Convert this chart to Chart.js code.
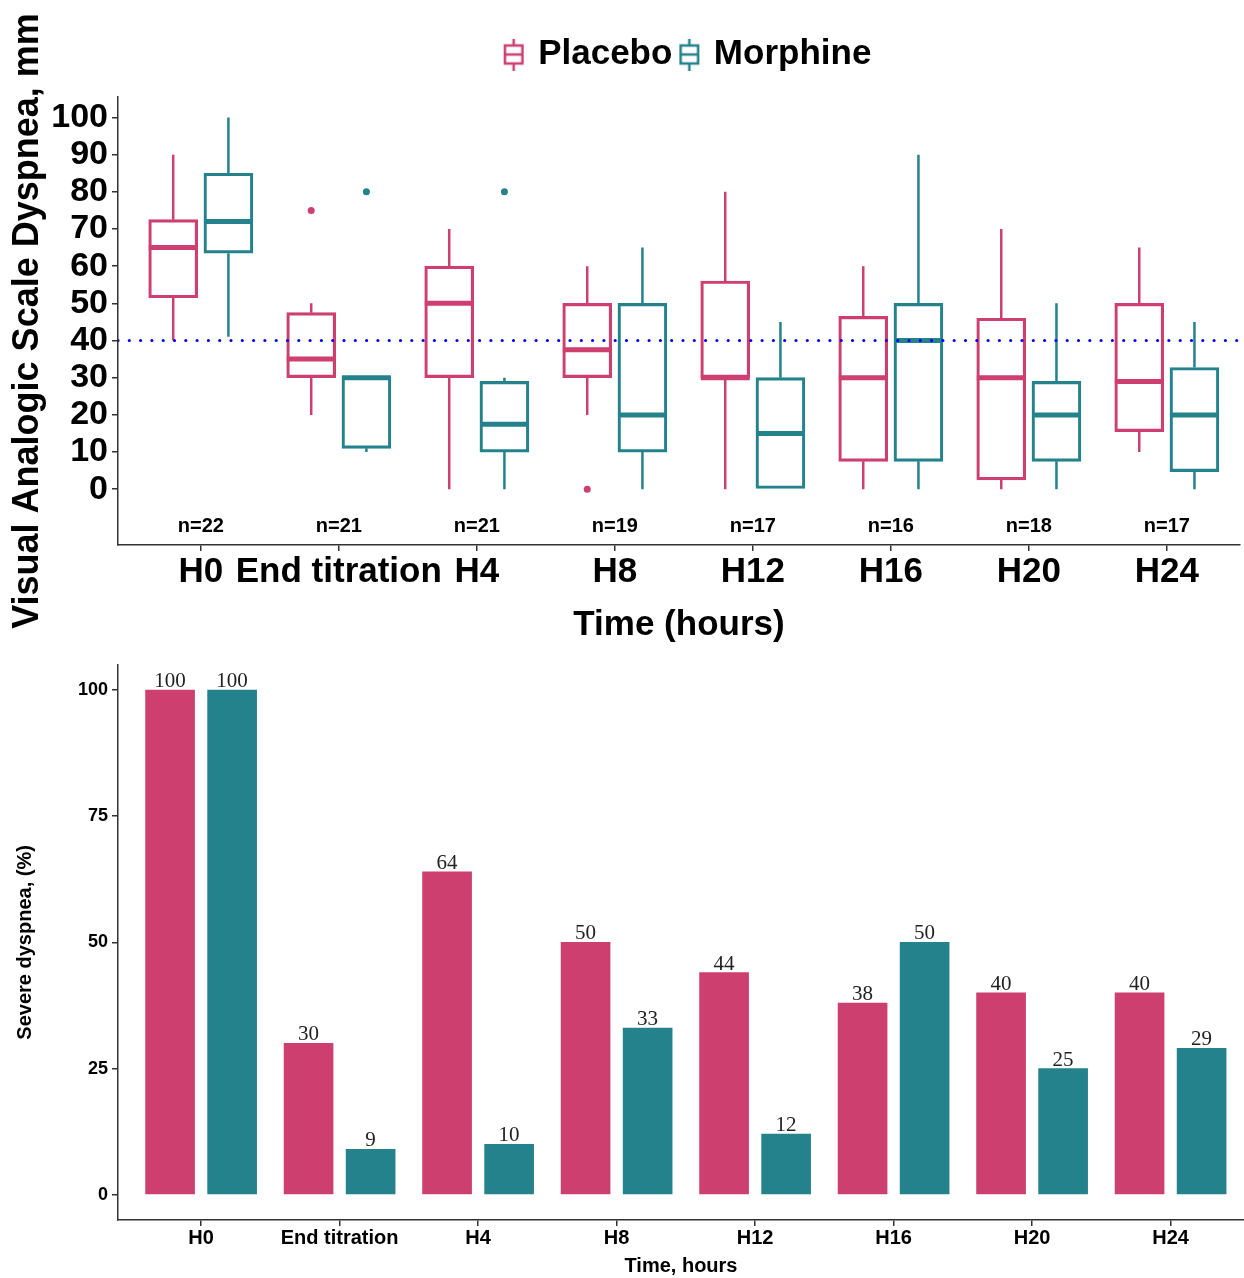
<!DOCTYPE html>
<html>
<head>
<meta charset="utf-8">
<script src="https://cdn.jsdelivr.net/npm/chart.js@4.4.1/dist/chart.umd.min.js"></script>
<style>
  body { margin: 0; background: #fff; }
  #wrap { position: relative; width: 1244px; height: 1278px; }
  #boxCanvas { position: absolute; left: 0; top: 0; }
  #barCanvas { position: absolute; left: 0; top: 650px; }
</style>
</head>
<body>
<div id="wrap">
  <canvas id="boxCanvas" width="1244" height="650"></canvas>
  <canvas id="barCanvas" width="1244" height="628"></canvas>
</div>
<script>
// Data
const timepoints = ['H0', 'End titration', 'H4', 'H8', 'H12', 'H16', 'H20', 'H24'];
const sampleSizes = [22, 21, 21, 19, 17, 16, 18, 17];

// boxplot summaries per timepoint: [min, q1, median, q3, max]
const placeboVAS = [
    [40, 51.5, 65, 72.5, 90],
    [20, 30, 35, 47.5, 50],
    [0, 30, 50, 60, 70],
    [20, 30, 37.5, 50, 60],
    [0, 30, 30, 56, 80],
    [0, 7.5, 30, 46.5, 60],
    [0, 2.5, 30, 46, 70],
    [10, 15.5, 29, 50, 65],
];
const morphineVAS = [
    [41, 63.5, 72, 85, 100],
    [10, 11, 30, 30.3, 30.3],
    [0, 10, 17.5, 29, 30],
    [0, 10, 20, 50, 65],
    [0, 0, 15, 30, 45],
    [0, 7.5, 40, 50, 90],
    [0, 7.5, 20, 29, 50],
    [0, 4.75, 20, 32.75, 45],
];
const placeboOutliers = [[], [75], [], [0], [], [], [], []];
const morphineOutliers = [[], [80], [80], [], [], [], [], []];
const severeThreshold = 40;

// severe dyspnea, %
const severePlacebo = [100, 30, 64, 50, 44, 38, 40, 40];
const severeMorphine = [100, 9, 10, 33, 12, 50, 25, 29];

const PINK = '#cd3f6f';
const TEAL = '#24828c';
const X_MIN = -0.6;
const X_MAX = 7.53;
const BOX_OFFSET = 0.2;
const MED_HALF = 0.177;
const BAR_OFFSET = 0.224;
const N_LABEL_Y = -10;

Chart.defaults.font.family = "'Liberation Sans', Arial, sans-serif";
Chart.defaults.color = '#000';

// Helpers to turn the summaries into chart points
function boxData(stats, off) {
    return stats.map((s, i) => ({ x: i + off, y: [s[1], s[3]] }));
}
function whiskerData(stats, off) {
    const pts = [];
    stats.forEach((s, i) => {
        pts.push({ x: i + off, y: s[3] }, { x: i + off, y: s[4] }, { x: i + off, y: null });
        pts.push({ x: i + off, y: s[1] }, { x: i + off, y: s[0] }, { x: i + off, y: null });
    });
    return pts;
}
function medianData(stats, off) {
    const pts = [];
    stats.forEach((s, i) => {
        pts.push({ x: i + off - MED_HALF, y: s[2] }, { x: i + off + MED_HALF, y: s[2] }, { x: i + off, y: null });
    });
    return pts;
}
function outlierData(list, off) {
    const pts = [];
    list.forEach((vals, i) => vals.forEach(v => pts.push({ x: i + off, y: v })));
    return pts;
}
function legendIcon(color) {
    const c = document.createElement('canvas');
    c.width = 22; c.height = 32;
    const g = c.getContext('2d');
    g.strokeStyle = color;
    g.lineWidth = 2.5;
    g.beginPath();
    g.moveTo(11, 0); g.lineTo(11, 7);
    g.moveTo(11, 25); g.lineTo(11, 32);
    g.stroke();
    g.strokeRect(2.25, 7, 17.5, 18);
    g.beginPath();
    g.moveTo(2, 16); g.lineTo(20, 16);
    g.stroke();
    return c;
}

const fixedTicks = (values) => (scale) => { scale.ticks = values.map(v => ({ value: v })); };
const lineStyle = { type: 'line', pointRadius: 0, spanGaps: false, fill: false };

// Legend: extra room underneath and centred over the plot like the original
const legendTweak = {
    id: 'legendTweak',
    beforeLayout(chart) {
        const l = chart.legend;
        if (l && !l._tweaked) {
            const fit = l.fit;
            l.fit = function () { fit.call(this); this.height += 15; };
            l._tweaked = true;
        }
    },
    afterLayout(chart) {
        chart.legend.left += 67;
        chart.legend.right += 67;
    }
};

const sampleSizeLabels = {
    id: 'sampleSizeLabels',
    afterDatasetsDraw(chart) {
        const { ctx, scales: { x, y } } = chart;
        ctx.save();
        ctx.font = "bold 20px 'Liberation Sans', Arial, sans-serif";
        ctx.fillStyle = '#000';
        ctx.textAlign = 'center';
        ctx.textBaseline = 'middle';
        sampleSizes.forEach((n, i) => ctx.fillText('n=' + n, x.getPixelForValue(i), y.getPixelForValue(N_LABEL_Y)));
        ctx.restore();
    }
};

const barValueLabels = {
    id: 'barValueLabels',
    afterDatasetsDraw(chart) {
        const ctx = chart.ctx;
        ctx.save();
        ctx.font = "21px 'Liberation Serif', 'Times New Roman', serif";
        ctx.fillStyle = '#222';
        ctx.textAlign = 'center';
        ctx.textBaseline = 'alphabetic';
        chart.data.datasets.forEach((ds, di) => {
            chart.getDatasetMeta(di).data.forEach((bar, i) => {
                ctx.fillText(String(ds.data[i].y), bar.x, bar.y - 3);
            });
        });
        ctx.restore();
    }
};

const axisLine = { display: true, color: '#333', width: 1.5 };
const tickMarks = { offset: false, drawOnChartArea: false, drawTicks: true, tickLength: 6, color: '#333', lineWidth: 1.5 };

// Top: VAS boxplots
new Chart(document.getElementById('boxCanvas'), {
    type: 'bar',
    data: {
        datasets: [
            { label: 'Placebo', data: boxData(placeboVAS, -BOX_OFFSET), backgroundColor: 'rgba(0,0,0,0)',
              borderColor: PINK, borderWidth: 2.5, borderSkipped: false, barThickness: 49, grouped: false, order: 2 },
            { label: 'Morphine', data: boxData(morphineVAS, BOX_OFFSET), backgroundColor: 'rgba(0,0,0,0)',
              borderColor: TEAL, borderWidth: 2.5, borderSkipped: false, barThickness: 49, grouped: false, order: 2 },
            { ...lineStyle, label: 'pw', data: whiskerData(placeboVAS, -BOX_OFFSET), borderColor: PINK, borderWidth: 2.5, order: 1 },
            { ...lineStyle, label: 'mw', data: whiskerData(morphineVAS, BOX_OFFSET), borderColor: TEAL, borderWidth: 2.5, order: 1 },
            { ...lineStyle, label: 'pm', data: medianData(placeboVAS, -BOX_OFFSET), borderColor: PINK, borderWidth: 5, order: 1 },
            { ...lineStyle, label: 'mm', data: medianData(morphineVAS, BOX_OFFSET), borderColor: TEAL, borderWidth: 5, order: 1 },
            { type: 'line', label: 'po', data: outlierData(placeboOutliers, -BOX_OFFSET), showLine: false,
              pointRadius: 3.5, pointBackgroundColor: PINK, pointBorderWidth: 0, order: 1 },
            { type: 'line', label: 'mo', data: outlierData(morphineOutliers, BOX_OFFSET), showLine: false,
              pointRadius: 3.5, pointBackgroundColor: TEAL, pointBorderWidth: 0, order: 1 },
            { ...lineStyle, label: 'threshold', data: [{ x: X_MIN, y: severeThreshold }, { x: X_MAX, y: severeThreshold }],
              borderColor: '#0000ff', borderWidth: 3.2, borderDash: [0, 11.3], borderCapStyle: 'round', order: 0 },
        ]
    },
    options: {
        responsive: false,
        animation: false,
        layout: { padding: { top: 27, right: 0, left: 0, bottom: 0 } },
        plugins: {
            tooltip: { enabled: false },
            legend: {
                position: 'top',
                labels: {
                    usePointStyle: true,
                    boxWidth: 14,
                    padding: 10,
                    color: '#000',
                    font: { size: 35, weight: 'bold' },
                    generateLabels: () => [
                        { text: 'Placebo', pointStyle: legendIcon(PINK), fillStyle: PINK, strokeStyle: PINK, lineWidth: 0, hidden: false, datasetIndex: 0, fontColor: '#000' },
                        { text: 'Morphine', pointStyle: legendIcon(TEAL), fillStyle: TEAL, strokeStyle: TEAL, lineWidth: 0, hidden: false, datasetIndex: 1, fontColor: '#000' },
                    ]
                }
            }
        },
        scales: {
            x: {
                type: 'linear',
                offset: false,
                min: X_MIN,
                max: X_MAX,
                afterBuildTicks: fixedTicks(timepoints.map((_, i) => i)),
                afterFit: (s) => { s.height = 105; },
                ticks: { autoSkip: false, maxRotation: 0, minRotation: 0, padding: 0, color: '#000',
                         font: { size: 35, weight: 'bold' }, callback: (v) => timepoints[v] },
                grid: tickMarks,
                border: axisLine,
                title: { display: true, text: 'Time (hours)', color: '#000', font: { size: 35, weight: 'bold' }, padding: { top: 0, bottom: 4 } }
            },
            y: {
                min: -15,
                max: 105.5,
                afterBuildTicks: fixedTicks([0, 10, 20, 30, 40, 50, 60, 70, 80, 90, 100]),
                afterFit: (s) => { s.width = 118; },
                ticks: { padding: 4, color: '#000', font: { size: 34, weight: 'bold' } },
                grid: tickMarks,
                border: axisLine,
                title: { display: true, text: 'Visual Analogic Scale Dyspnea, mm', color: '#000', font: { size: 36, weight: 'bold' }, padding: { top: 6, bottom: 0 } }
            }
        }
    },
    plugins: [legendTweak, sampleSizeLabels]
});

// Bottom: severe dyspnea bars
new Chart(document.getElementById('barCanvas'), {
    type: 'bar',
    data: {
        datasets: [
            { label: 'Placebo', data: severePlacebo.map((v, i) => ({ x: i - BAR_OFFSET, y: v })),
              backgroundColor: PINK, barThickness: 49, grouped: false },
            { label: 'Morphine', data: severeMorphine.map((v, i) => ({ x: i + BAR_OFFSET, y: v })),
              backgroundColor: TEAL, barThickness: 49, grouped: false },
        ]
    },
    options: {
        responsive: false,
        animation: false,
        layout: { padding: { top: 7, right: 0, left: 0, bottom: 0 } },
        plugins: { tooltip: { enabled: false }, legend: { display: false } },
        scales: {
            x: {
                type: 'linear',
                offset: false,
                min: X_MIN,
                max: X_MAX,
                afterBuildTicks: fixedTicks(timepoints.map((_, i) => i)),
                afterFit: (s) => { s.height = 58; },
                ticks: { autoSkip: false, maxRotation: 0, minRotation: 0, padding: 0, color: '#000',
                         font: { size: 20, weight: 'bold' }, callback: (v) => timepoints[v] },
                grid: tickMarks,
                border: axisLine,
                title: { display: true, text: 'Time, hours', color: '#000', font: { size: 20, weight: 'bold' }, padding: { top: 0, bottom: 0 } }
            },
            y: {
                min: -5,
                max: 105,
                afterBuildTicks: fixedTicks([0, 25, 50, 75, 100]),
                afterFit: (s) => { s.width = 118; },
                ticks: { padding: 4, color: '#000', font: { size: 18, weight: 'bold' } },
                grid: tickMarks,
                border: axisLine,
                title: { display: true, text: 'Severe dyspnea, (%)', color: '#000', font: { size: 20, weight: 'bold' }, padding: { top: 13, bottom: 0 } }
            }
        }
    },
    plugins: [barValueLabels]
});
</script>
</body>
</html>
